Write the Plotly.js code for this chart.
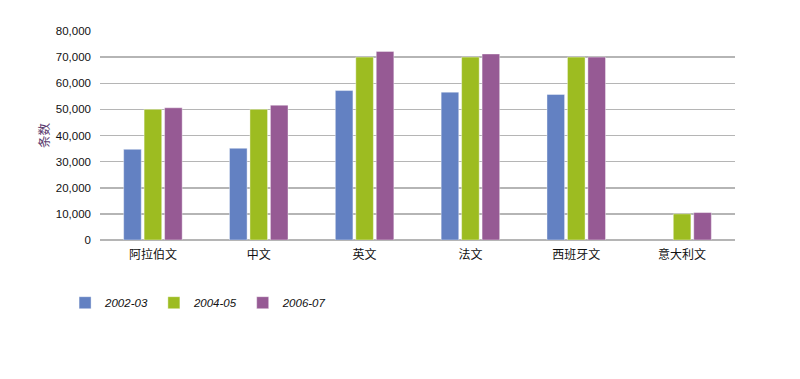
<!DOCTYPE html>
<html><head><meta charset="utf-8">
<script src="https://cdn.plot.ly/plotly-3.0.1.min.js"></script>
<style>html,body{margin:0;padding:0;background:#fff}#chart{width:800px;height:379px}</style>
</head><body><div id="chart"></div>
<script>
const categories = ['阿拉伯文','中文','英文','法文','西班牙文','意大利文'];
const seriesNames = ['2002-03','2004-05','2006-07'];
const values2002 = [34700, 35100, 57200, 56600, 55700, null];
const values2004 = [50000, 50000, 70000, 70000, 70000, 10000];
const values2006 = [50600, 51600, 72200, 71200, 70000, 10500];
const colors = ['#6381c2', '#9dbc21', '#965a94'];
const yTickVals = [0,10000,20000,30000,40000,50000,60000,70000,80000];

const allValues = [values2002, values2004, values2006];
const data = allValues.map((v, i) => ({
  type: 'bar', name: seriesNames[i], x: categories, y: v,
  marker: {color: colors[i], line: {color: 'rgba(255,255,255,0.5)', width: 0.8}},
  hoverinfo: 'skip'
}));

const layout = {
  width: 800, height: 379,
  margin: {l: 100, r: 65, t: 31, b: 139},
  paper_bgcolor: '#fff', plot_bgcolor: '#fff',
  font: {family: 'Liberation Sans, Arial, sans-serif', size: 11, color: '#111'},
  barmode: 'group', bargap: 0.42, bargroupgap: 0.14,
  showlegend: true,
  legend: {orientation: 'h', x: -0.055, y: -0.30, xanchor: 'left', yanchor: 'middle',
    font: {size: 11.5, style: 'italic', color: '#111'}, itemwidth: 30, traceorder: 'normal'},
  xaxis: {type: 'category', showgrid: false, showline: false, ticks: '', zeroline: false,
    ticklabelstandoff: 6,
    tickfont: {family: 'Noto Sans CJK SC, sans-serif', size: 12, color: '#111'}},
  yaxis: {range: [0, 80000], tickvals: yTickVals, tickformat: ',d', showgrid: true,
    gridcolor: '#b5b5b5', gridwidth: 1.5, zeroline: true, zerolinecolor: '#b5b5b5', zerolinewidth: 1.5,
    showline: false, ticks: '', ticklabelstandoff: 8,
    tickfont: {size: 11.5, color: '#111'},
    title: {text: '条数', standoff: 3, font: {family: 'Noto Sans CJK SC, sans-serif', size: 12.5, color: '#5b3b6e'}}}
};
Plotly.newPlot('chart', data, layout, {displayModeBar: false, staticPlot: true});
</script></body></html>
